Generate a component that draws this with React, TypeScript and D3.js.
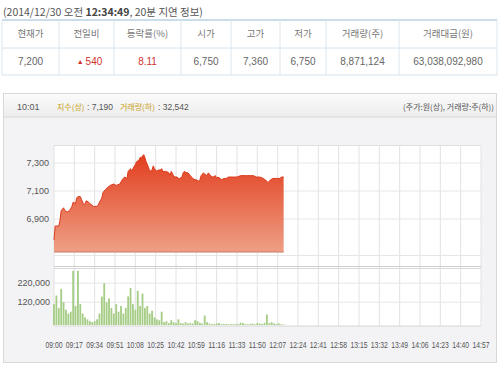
import React from "react";
import * as d3 from "d3";

// ---- data ----
const tableHeaders = ["현재가", "전일비", "등락률(%)", "시가", "고가", "저가", "거래량(주)", "거래대금(원)"];
const tableValues = ["7,200", "540", "8.11", "6,750", "7,360", "6,750", "8,871,124", "63,038,092,980"];

const priceTimes = [
  "09:00","09:01","09:02","09:04","09:05","09:06","09:08","09:09","09:11","09:13",
  "09:15","09:16","09:18","09:19","09:20","09:22","09:23","09:25","09:26","09:27",
  "09:29","09:30","09:33","09:36","09:37","09:38","09:40","09:41","09:43","09:44",
  "09:47","09:50","09:52","09:55","09:57","09:58","09:59","10:01","10:02","10:04",
  "10:05","10:06","10:08","10:09","10:11","10:12","10:13","10:15","10:16","10:17",
  "10:19","10:20","10:22","10:23","10:24","10:26","10:27","10:29","10:30","10:31",
  "10:33","10:34","10:36","10:37","10:38","10:40","10:41","10:43","10:44","10:45",
  "10:47","10:48","10:49","10:51","10:52","10:54","10:55","10:56","10:58","10:59",
  "11:01","11:02","11:03","11:05","11:06","11:08","11:09","11:10","11:12","11:13",
  "11:15","11:16","11:17","11:19","11:20","11:22","11:23","11:24","11:26","11:27",
  "11:30","11:33","11:36","11:38","11:41","11:44","11:47","11:49","11:52","11:55",
  "11:58","11:59","12:01","12:03","12:06","12:09","12:10","12:12"
];
const prices = [
  6750,6850,6850,6850,6890,6960,6980,6960,6950,6960,
  6990,7020,7010,7050,7060,7060,7040,7000,7010,7030,
  7020,7010,6990,6990,7000,7020,7050,7090,7110,7120,
  7140,7150,7140,7150,7180,7190,7200,7190,7240,7260,
  7240,7260,7290,7310,7320,7340,7340,7360,7340,7310,
  7270,7240,7250,7280,7260,7240,7250,7250,7260,7240,
  7240,7240,7230,7210,7240,7210,7200,7200,7190,7190,
  7200,7230,7240,7230,7230,7210,7200,7190,7180,7180,
  7170,7180,7210,7230,7220,7210,7230,7220,7200,7200,
  7210,7190,7200,7190,7180,7190,7190,7190,7200,7200,
  7200,7200,7210,7210,7210,7210,7210,7200,7200,7190,
  7170,7160,7180,7190,7190,7190,7200,7200
];

// volume every 2 minutes from 09:00
const volumes = [
  110000,155000,90000,190000,120000,80000,60000,70000,285000,100000,
  285000,110000,60000,40000,30000,20000,15000,20000,30000,60000,
  150000,220000,120000,140000,90000,60000,110000,70000,100000,60000,
  90000,150000,195000,110000,80000,180000,100000,165000,90000,100000,
  60000,75000,40000,30000,25000,70000,15000,20000,10000,25000,
  15000,10000,30000,10000,8000,15000,8000,10000,8000,25000,
  20000,12000,8000,50000,15000,8000,5000,5000,8000,10000,
  5000,5000,5000,4000,5000,5000,4000,5000,12000,10000,
  5000,4000,5000,8000,4000,10000,8000,5000,12000,55000,
  10000,15000,8000,5000,8000,4000,3000
];

const timeTicks = [
  "09:00","09:17","09:34","09:51","10:08","10:25","10:42","10:59","11:16","11:33","11:50",
  "12:07","12:24","12:41","12:58","13:15","13:32","13:49","14:06","14:23","14:40","14:57"
];
const priceTicks = [6900, 7100, 7300];
const volumeTicks = [120000, 220000];

// ---- layout ----
const W = 500, H = 366;
const colEdges = [2, 59, 114, 181, 231, 280, 326, 399, 497];
const KR = "'Noto Sans CJK KR', 'Noto Sans', sans-serif";
const NUM = "'Liberation Sans', Arial, sans-serif";

const toMin = (t: string) => +t.slice(0, 2) * 60 + +t.slice(3) - 540;

export default function App() {
  const x = d3.scaleLinear().domain([0, 357]).range([54, 481]);
  const yP = d3.scaleLinear().domain([6664, 7429]).range([252, 145]);
  const yV = d3.scaleLinear().domain([0, 300000]).range([325, 268]);

  const pdata = priceTimes.map((t, i) => ({ m: toMin(t), p: prices[i] }));
  const area = d3.area<{ m: number; p: number }>()
    .x((d) => x(d.m))
    .y0(yP(6664))
    .y1((d) => yP(d.p));
  const line = d3.line<{ m: number; p: number }>()
    .x((d) => x(d.m))
    .y((d) => yP(d.p));

  const fmt = d3.format(",");
  const tickMins = timeTicks.map(toMin);

  return (
    <div style={{ position: "absolute", left: 0, top: 0 }}>
      <svg width={W} height={H} style={{ display: "block", background: "#fff" }}>
        <defs>
          <linearGradient id="pg" x1="0" y1="0" x2="0" y2="1">
            <stop offset="0%" stopColor="#e23e1e" />
            <stop offset="100%" stopColor="#ee9f85" />
          </linearGradient>
          <linearGradient id="hg" x1="0" y1="0" x2="0" y2="1">
            <stop offset="0%" stopColor="#fbfbfb" />
            <stop offset="100%" stopColor="#ececec" />
          </linearGradient>
        </defs>

        {/* top caption */}
        <text x={3} y={16} fontFamily={KR} fontSize={10.5} fill="#555">
          (2014/12/30 오전 <tspan fontWeight="bold" fill="#444">12:34:49</tspan>, 20분 지연 정보)
        </text>

        {/* table */}
        <rect x={colEdges[0]} y={20} width={colEdges[8] - colEdges[0]} height={55} fill="#fff" />
        <line x1={colEdges[0]} x2={colEdges[8]} y1={20} y2={20} stroke="#b9d2e4" strokeWidth={1.5} />
        <line x1={colEdges[0]} x2={colEdges[8]} y1={48} y2={48} stroke="#d6e4ee" />
        <line x1={colEdges[0]} x2={colEdges[8]} y1={75} y2={75} stroke="#d6e4ee" />
        {colEdges.map((e, i) => (
          <line key={i} x1={e} x2={e} y1={20} y2={75} stroke="#dce6ee" />
        ))}
        {tableHeaders.map((h, i) => (
          <text key={h} x={(colEdges[i] + colEdges[i + 1]) / 2} y={37} textAnchor="middle"
            fontFamily={KR} fontSize={9.5} fill="#777">{h}</text>
        ))}
        {tableValues.map((v, i) => (
          <text key={i} x={(colEdges[i] + colEdges[i + 1]) / 2 + (i === 1 ? 3 : 0)} y={65} textAnchor="middle"
            fontFamily={NUM} fontSize={10} fill={i === 1 || i === 2 ? "#d2322d" : "#666"}>
            {i === 1 ? <tspan fontSize={7} dy={-1}>▲ </tspan> : null}
            {i === 1 ? <tspan dy={1}>{v}</tspan> : v}
          </text>
        ))}

        {/* chart panel */}
        <rect x={3.5} y={93.5} width={493} height={269} fill="#f3f3f5" stroke="#d8d8d8" />
        <rect x={4} y={94} width={492} height={23} fill="url(#hg)" />
        <line x1={4} x2={496} y1={117} y2={117} stroke="#d8d8d8" />
        <text x={17} y={110} fontFamily={NUM} fontSize={9} fill="#555">10:01</text>
        <text x={57} y={110} fontFamily={KR} fontSize={8} fill="#c9a020">지수(상)</text>
        <text x={87} y={110} fontFamily={NUM} fontSize={8.5} fill="#555">: 7,190</text>
        <text x={120} y={110} fontFamily={KR} fontSize={8} fill="#c9a020">거래량(하)</text>
        <text x={158} y={110} fontFamily={NUM} fontSize={8.5} fill="#555">: 32,542</text>
        <text x={494} y={110} textAnchor="end" fontFamily={KR} fontSize={8} fill="#555">
          (주가:원(상), 거래량:주(하))
        </text>

        {/* plot background */}
        <rect x={54} y={145} width={427} height={181} fill="#fff" />
        {/* vertical grid */}
        {tickMins.map((m, i) => (
          <line key={i} x1={x(m)} x2={x(m)} y1={145} y2={326} stroke="#e2e2e2" />
        ))}
        {/* horizontal grid */}
        <line x1={54} x2={481} y1={145.5} y2={145.5} stroke="#e0e0e0" />
        {priceTicks.map((t) => (
          <line key={t} x1={54} x2={481} y1={yP(t)} y2={yP(t)} stroke="#e6e6e6" />
        ))}
        <line x1={54} x2={481} y1={255.5} y2={255.5} stroke="#e6e6e6" />
        <line x1={54} x2={481} y1={266.5} y2={266.5} stroke="#cdcdcd" />
        <line x1={54} x2={481} y1={268.5} y2={268.5} stroke="#d8d8d8" />
        {volumeTicks.map((t) => (
          <line key={t} x1={54} x2={481} y1={yV(t)} y2={yV(t)} stroke="#e6e6e6" />
        ))}
        <line x1={54} x2={481} y1={326} y2={326} stroke="#d6d6d6" />

        {/* price area */}
        <path d={area(pdata) || ""} fill="url(#pg)" />
        <path d={line(pdata) || ""} fill="none" stroke="#dc3a1b" strokeWidth={1} />
        <line x1={x(pdata[0].m)} x2={x(pdata[pdata.length - 1].m)} y1={yP(6664)} y2={yP(6664)} stroke="#c87a66" />

        {/* volume bars */}
        {volumes.map((v, i) => (
          <rect key={i} x={x(i * 2) - 0.9} y={yV(v)} width={1.8} height={yV(0) - yV(v)} fill="#a5cd85" />
        ))}

        {/* y labels */}
        {priceTicks.map((t) => (
          <text key={t} x={49} y={yP(t) + 3} textAnchor="end" fontFamily={NUM} fontSize={9} fill="#555">{fmt(t)}</text>
        ))}
        {volumeTicks.map((t) => (
          <text key={t} x={50} y={yV(t) + 3} textAnchor="end" fontFamily={NUM} fontSize={9} fill="#555">{fmt(t)}</text>
        ))}
        {/* x labels */}
        {timeTicks.map((t, i) => (
          <text key={t} x={x(tickMins[i])} y={348} textAnchor="middle" fontFamily={NUM} fontSize={8.5}
            fill="#555" textLength={17} lengthAdjust="spacingAndGlyphs">{t}</text>
        ))}
      </svg>
    </div>
  );
}
